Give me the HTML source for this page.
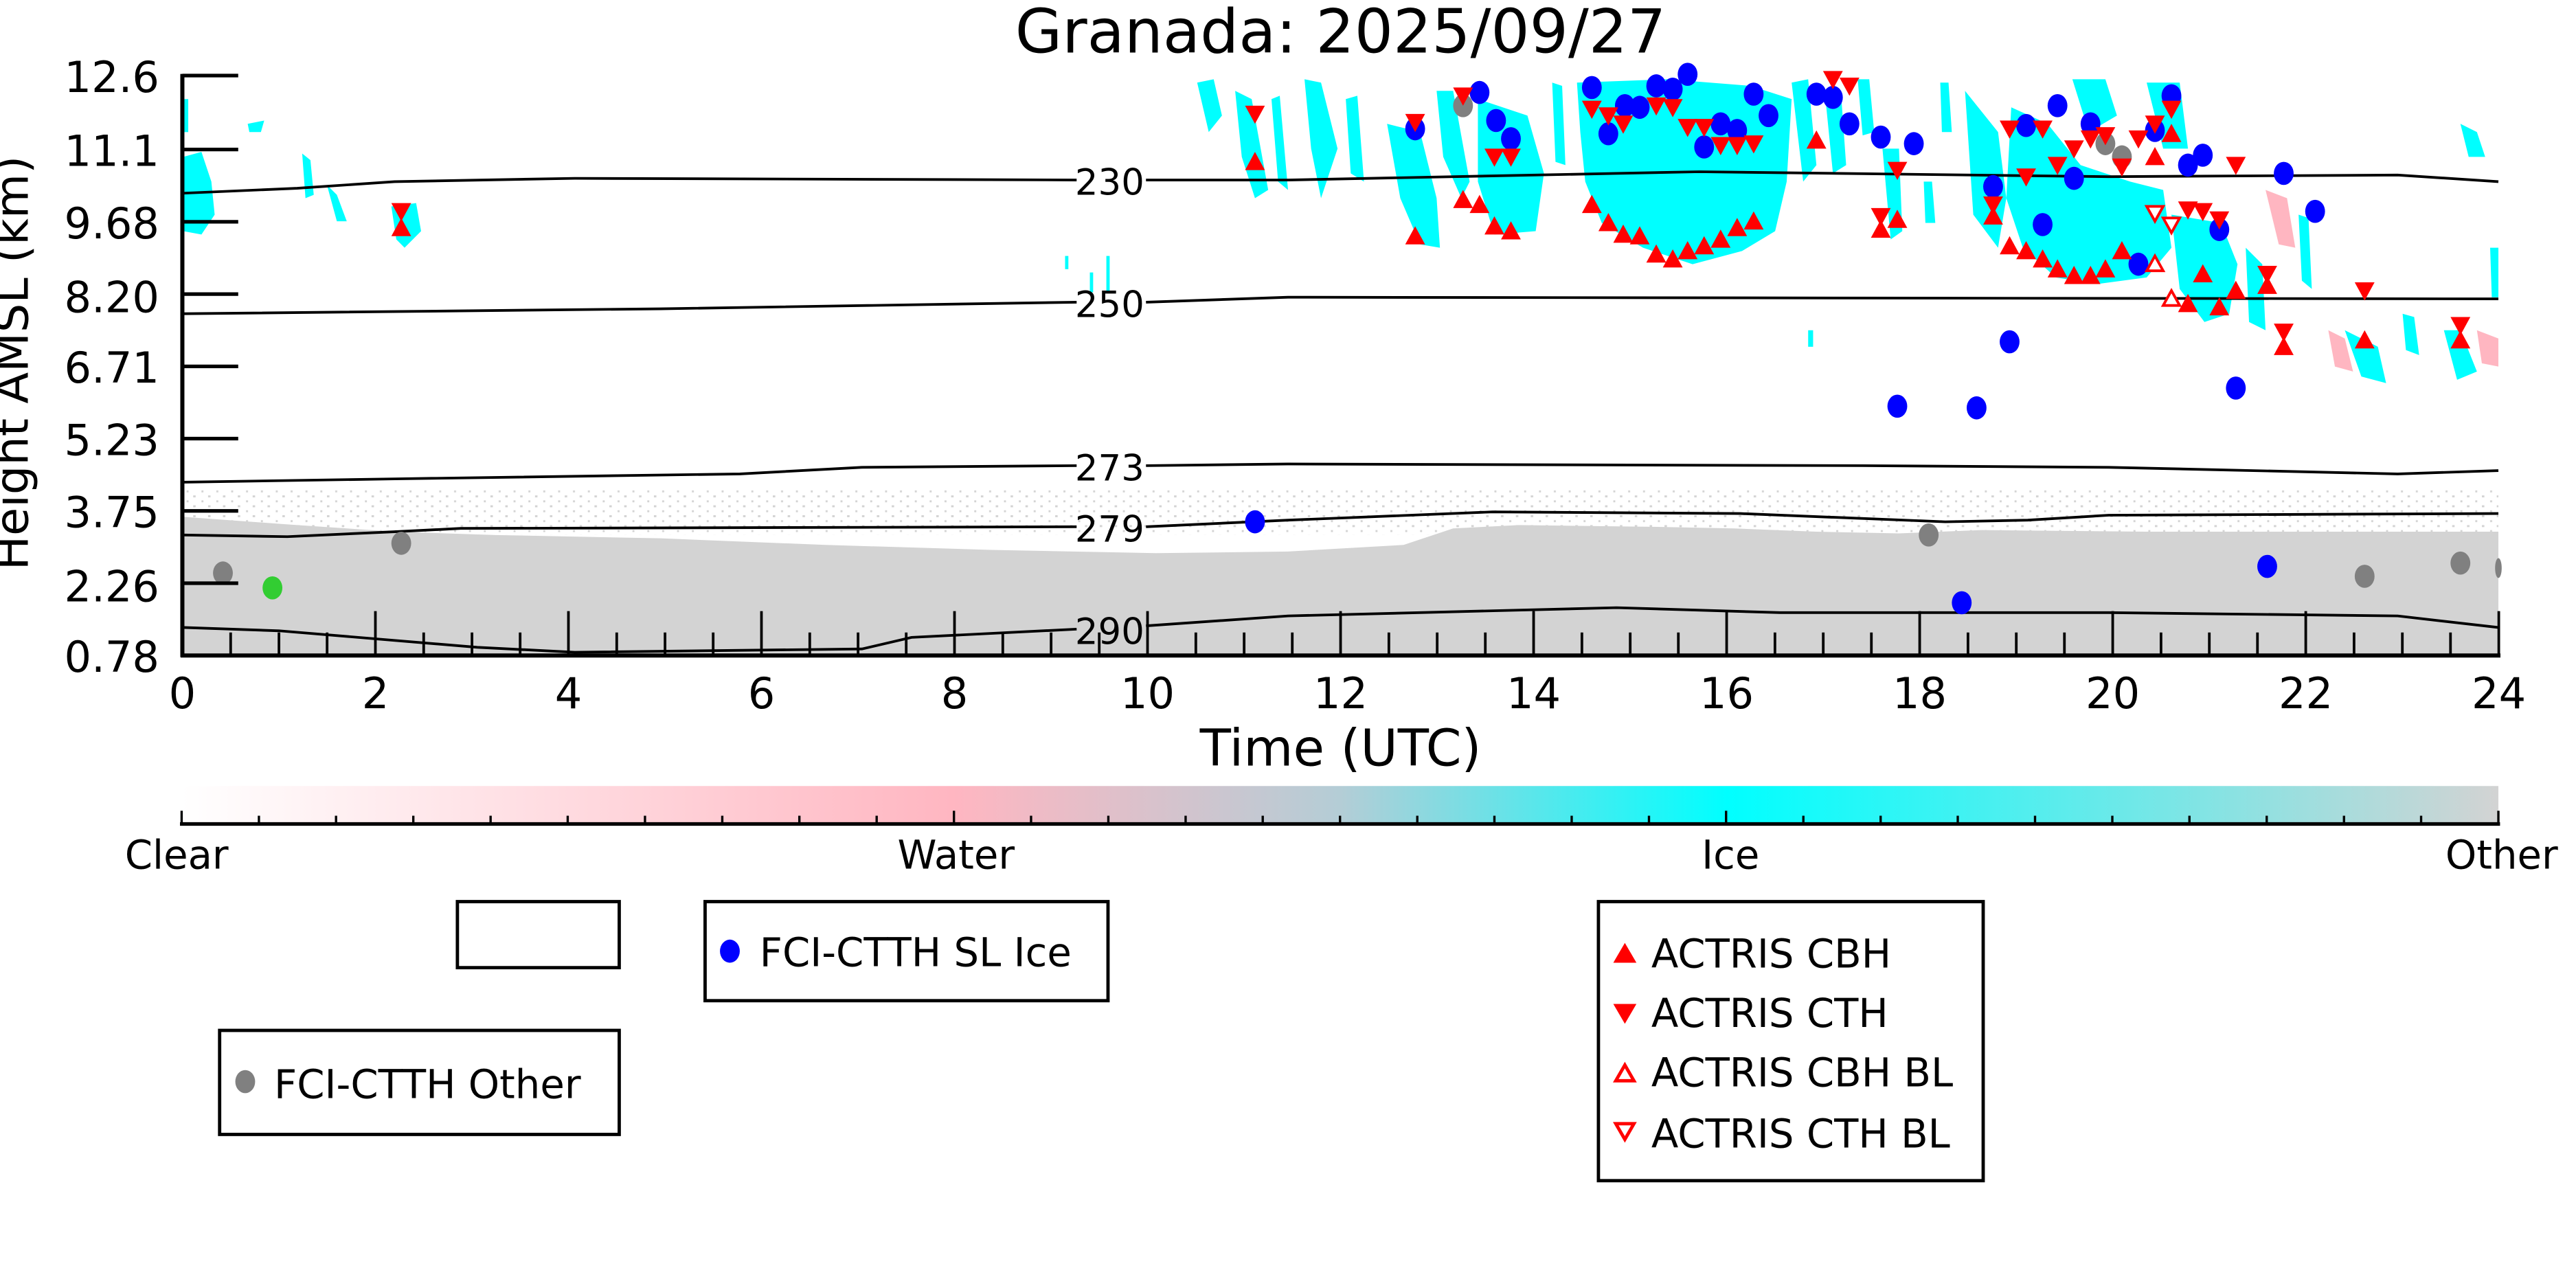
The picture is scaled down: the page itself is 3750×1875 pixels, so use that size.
<!DOCTYPE html>
<html><head><meta charset="utf-8"><style>html,body{margin:0;padding:0;background:#fff;}svg{display:block;}</style></head>
<body>
<svg xmlns="http://www.w3.org/2000/svg" width="3750" height="1875" viewBox="0 0 1560 780" preserveAspectRatio="none" font-family="DejaVu Sans, Liberation Sans, sans-serif">
<defs>
<linearGradient id="cb" x1="0" x2="1" y1="0" y2="0">
<stop offset="0" stop-color="#ffffff"/>
<stop offset="0.333" stop-color="#ffb6c1"/>
<stop offset="0.5" stop-color="#b4cdd6"/>
<stop offset="0.667" stop-color="#00ffff"/>
<stop offset="1" stop-color="#d3d3d3"/>
</linearGradient>
<pattern id="spk" width="9" height="6" patternUnits="userSpaceOnUse">
<rect x="0" y="0" width="1.5" height="1.2" fill="#d3d3d3"/>
<rect x="5" y="3" width="1.2" height="1.2" fill="#d3d3d3"/>
</pattern>
</defs>
<rect width="1560" height="780" fill="#fff"/>

<rect x="111" y="296" width="1402" height="28" fill="url(#spk)"/>
<polygon fill="#d3d3d3" points="111,313 180,318 240,322 300,324 400,326 500,330 600,333 700,335 780,334 850,330 880,320 920,318 1000,319 1050,320 1100,322 1150,323 1200,321 1300,322 1400,322 1513,322 1513,397 111,397"/>

<g fill="#00ffff">
<polygon points="111,95 122,92 128,110 130,130 122,142 111,140"/>
<rect x="111" y="60" width="3" height="20"/>
<polygon points="150,75 160,73 158,80 151,80"/>
<polygon points="183,93 188,97 190,118 185,120"/>
<polygon points="198,112 204,118 210,134 204,134"/>
<polygon points="237,125 252,123 255,140 245,150 240,145"/>
<rect x="645" y="155" width="2" height="8"/>
<rect x="660" y="165" width="2" height="12"/>
<rect x="670" y="155" width="2" height="22"/>
<polygon points="725,50 735,48 740,70 732,80"/>
<polygon points="748,55 758,60 768,115 760,120 752,95"/>
<polygon points="770,60 775,58 780,115 774,110"/>
<polygon points="790,48 800,50 810,90 800,120 794,90"/>
<polygon points="815,60 822,58 826,110 818,105"/>
<polygon points="840,75 860,80 870,120 872,150 860,148 848,120"/>
<polygon points="870,55 880,55 890,110 885,120 874,95"/>
<polygon points="895,60 925,70 935,105 930,140 905,142 895,110"/>
<polygon points="940,50 946,52 948,100 942,98"/>
<polygon points="955,50 1010,48 1060,52 1085,60 1082,110 1075,140 1055,152 1025,160 995,150 970,135 960,110 957,80"/>
<polygon points="1085,50 1095,48 1100,100 1092,110"/>
<polygon points="1105,55 1115,58 1118,100 1110,105"/>
<polygon points="1125,48 1132,48 1135,80 1128,82"/>
<polygon points="1140,90 1150,90 1152,140 1145,145"/>
<polygon points="1165,110 1170,110 1172,135 1166,135"/>
<polygon points="1175,50 1180,50 1182,80 1176,80"/>
<polygon points="1190,55 1210,80 1215,120 1210,150 1195,130"/>
<polygon points="1218,65 1240,75 1260,100 1290,110 1310,115 1315,150 1300,168 1270,172 1245,168 1225,150 1215,120"/>
<polygon points="1255,48 1275,48 1282,70 1265,80"/>
<polygon points="1300,50 1320,50 1325,90 1310,90"/>
<polygon points="1315,130 1345,135 1355,160 1350,190 1335,195 1320,175"/>
<polygon points="1360,150 1370,160 1372,200 1362,195"/>
<polygon points="1392,130 1398,132 1400,175 1394,170"/>
<polygon points="1420,200 1440,210 1445,232 1430,228"/>
<polygon points="1455,190 1462,192 1465,215 1457,212"/>
<polygon points="1480,200 1490,200 1500,225 1488,230"/>
<polygon points="1490,75 1500,80 1505,95 1495,95"/>
<polygon points="1508,150 1513,150 1513,180 1509,180"/>
<rect x="1095" y="200" width="3" height="10"/>
</g>
<g fill="#ffb6c1">
<polygon points="1372,115 1385,120 1390,150 1380,148"/>
<polygon points="1410,200 1420,205 1425,225 1414,222"/>
<polygon points="1500,200 1513,205 1513,222 1503,220"/>
</g>

<g fill="none" stroke="#000" stroke-width="1.6">
<polyline points="111,117 180,114 239,110 348,108 652,109"/>
<polyline points="694,109 780,109 1029,104 1277,107 1452,106 1513,110"/>
<polyline points="111,190 400,187 652,183"/>
<polyline points="694,183 780,180 1513,181"/>
<polyline points="111,292 239,290 448,287 522,283 652,282"/>
<polyline points="694,282 780,281 1128,282 1277,283 1452,287 1513,285"/>
<polyline points="111,324 174,325 239,322 279,320 652,319"/>
<polyline points="694,319 780,315 904,310 1054,311 1178,316 1228,315 1277,312 1513,311"/>
<polyline points="111,380 169,382 289,392 348,395 522,393 552,386 652,381"/>
<polyline points="694,379 780,373 979,368 1078,371 1178,371 1277,371 1452,373 1513,380"/>
</g>
<g font-size="22" text-anchor="middle">
<text x="672" y="118">230</text>
<text x="672" y="192">250</text>
<text x="672" y="291">273</text>
<text x="672" y="328">279</text>
<text x="672" y="390">290</text>
</g>

<g fill="#0000ff">
<ellipse cx="760" cy="316" rx="6" ry="7"/><ellipse cx="857" cy="78" rx="6" ry="7"/><ellipse cx="896" cy="56" rx="6" ry="7"/><ellipse cx="906" cy="73" rx="6" ry="7"/><ellipse cx="915" cy="84" rx="6" ry="7"/><ellipse cx="964" cy="53" rx="6" ry="7"/><ellipse cx="974" cy="81" rx="6" ry="7"/><ellipse cx="984" cy="64" rx="6" ry="7"/><ellipse cx="993" cy="65" rx="6" ry="7"/><ellipse cx="1003" cy="52" rx="6" ry="7"/><ellipse cx="1013" cy="54" rx="6" ry="7"/><ellipse cx="1022" cy="45" rx="6" ry="7"/><ellipse cx="1032" cy="89" rx="6" ry="7"/><ellipse cx="1042" cy="75" rx="6" ry="7"/><ellipse cx="1052" cy="79" rx="6" ry="7"/><ellipse cx="1062" cy="57" rx="6" ry="7"/><ellipse cx="1071" cy="70" rx="6" ry="7"/><ellipse cx="1100" cy="57" rx="6" ry="7"/><ellipse cx="1110" cy="59" rx="6" ry="7"/><ellipse cx="1120" cy="75" rx="6" ry="7"/><ellipse cx="1139" cy="83" rx="6" ry="7"/><ellipse cx="1159" cy="87" rx="6" ry="7"/><ellipse cx="1149" cy="246" rx="6" ry="7"/><ellipse cx="1197" cy="247" rx="6" ry="7"/><ellipse cx="1217" cy="207" rx="6" ry="7"/><ellipse cx="1207" cy="113" rx="6" ry="7"/><ellipse cx="1227" cy="76" rx="6" ry="7"/><ellipse cx="1246" cy="64" rx="6" ry="7"/><ellipse cx="1237" cy="136" rx="6" ry="7"/><ellipse cx="1256" cy="108" rx="6" ry="7"/><ellipse cx="1266" cy="75" rx="6" ry="7"/><ellipse cx="1295" cy="160" rx="6" ry="7"/><ellipse cx="1305" cy="79" rx="6" ry="7"/><ellipse cx="1315" cy="58" rx="6" ry="7"/><ellipse cx="1325" cy="100" rx="6" ry="7"/><ellipse cx="1334" cy="94" rx="6" ry="7"/><ellipse cx="1344" cy="139" rx="6" ry="7"/><ellipse cx="1354" cy="235" rx="6" ry="7"/><ellipse cx="1373" cy="343" rx="6" ry="7"/><ellipse cx="1383" cy="105" rx="6" ry="7"/><ellipse cx="1402" cy="128" rx="6" ry="7"/><ellipse cx="1188" cy="365" rx="6" ry="7"/>
</g>
<g fill="#808080">
<ellipse cx="135" cy="347" rx="6" ry="7"/><ellipse cx="243" cy="329" rx="6" ry="7"/><ellipse cx="886" cy="64" rx="6" ry="7"/><ellipse cx="1168" cy="324" rx="6" ry="7"/><ellipse cx="1275" cy="87" rx="6" ry="7"/><ellipse cx="1285" cy="95" rx="6" ry="7"/><ellipse cx="1432" cy="349" rx="6" ry="7"/><ellipse cx="1490" cy="341" rx="6" ry="7"/><ellipse cx="1513" cy="344" rx="2" ry="6"/>
</g>
<ellipse cx="165" cy="356" rx="6" ry="7" fill="#32cd32"/>

<g fill="red">
<path d="M857,80l-6,-11h12z"/><path d="M886,64l-6,-11h12z"/><path d="M905,101l-6,-11h12z"/><path d="M915,101l-6,-11h12z"/><path d="M964,72l-6,-11h12z"/><path d="M974,76l-6,-11h12z"/><path d="M983,81l-6,-11h12z"/><path d="M1003,70l-6,-11h12z"/><path d="M1013,71l-6,-11h12z"/><path d="M1022,83l-6,-11h12z"/><path d="M1032,83l-6,-11h12z"/><path d="M1042,94l-6,-11h12z"/><path d="M1052,94l-6,-11h12z"/><path d="M1062,93l-6,-11h12z"/><path d="M1110,54l-6,-11h12z"/><path d="M1120,58l-6,-11h12z"/><path d="M1149,109l-6,-11h12z"/><path d="M1139,137l-6,-11h12z"/><path d="M1207,130l-6,-11h12z"/><path d="M1217,84l-6,-11h12z"/><path d="M1227,113l-6,-11h12z"/><path d="M1237,84l-6,-11h12z"/><path d="M1246,106l-6,-11h12z"/><path d="M1256,96l-6,-11h12z"/><path d="M1266,90l-6,-11h12z"/><path d="M1275,88l-6,-11h12z"/><path d="M1285,107l-6,-11h12z"/><path d="M1295,90l-6,-11h12z"/><path d="M1305,81l-6,-11h12z"/><path d="M1315,72l-6,-11h12z"/><path d="M1325,133l-6,-11h12z"/><path d="M1334,134l-6,-11h12z"/><path d="M1344,139l-6,-11h12z"/><path d="M1354,106l-6,-11h12z"/><path d="M1373,172l-6,-11h12z"/><path d="M1383,207l-6,-11h12z"/><path d="M1432,182l-6,-11h12z"/><path d="M1490,203l-6,-11h12z"/><path d="M760,75l-6,-11h12z"/><path d="M243,134l-6,-11h12z"/>
</g>
<g fill="red">
<path d="M857,137l-6,11h12z"/><path d="M886,115l-6,11h12z"/><path d="M896,118l-6,11h12z"/><path d="M905,131l-6,11h12z"/><path d="M915,134l-6,11h12z"/><path d="M964,118l-6,11h12z"/><path d="M974,129l-6,11h12z"/><path d="M983,136l-6,11h12z"/><path d="M993,137l-6,11h12z"/><path d="M1003,148l-6,11h12z"/><path d="M1013,151l-6,11h12z"/><path d="M1022,146l-6,11h12z"/><path d="M1032,143l-6,11h12z"/><path d="M1042,139l-6,11h12z"/><path d="M1052,132l-6,11h12z"/><path d="M1062,128l-6,11h12z"/><path d="M1100,79l-6,11h12z"/><path d="M1139,133l-6,11h12z"/><path d="M1149,127l-6,11h12z"/><path d="M1207,125l-6,11h12z"/><path d="M1217,143l-6,11h12z"/><path d="M1227,146l-6,11h12z"/><path d="M1237,151l-6,11h12z"/><path d="M1246,157l-6,11h12z"/><path d="M1256,161l-6,11h12z"/><path d="M1266,161l-6,11h12z"/><path d="M1275,157l-6,11h12z"/><path d="M1285,146l-6,11h12z"/><path d="M1305,89l-6,11h12z"/><path d="M1315,75l-6,11h12z"/><path d="M1325,178l-6,11h12z"/><path d="M1334,160l-6,11h12z"/><path d="M1344,180l-6,11h12z"/><path d="M1354,170l-6,11h12z"/><path d="M1373,167l-6,11h12z"/><path d="M1383,204l-6,11h12z"/><path d="M1432,200l-6,11h12z"/><path d="M1490,200l-6,11h12z"/><path d="M760,92l-6,11h12z"/><path d="M243,132l-6,11h12z"/>
</g>
<g fill="#fff" stroke="red" stroke-width="1.6">
<path d="M1305,134l-5,-9h10z"/><path d="M1315,141l-5,-9h10z"/>
<path d="M1305,155l-5,9h10z"/><path d="M1315,176l-5,9h10z"/>
</g>

<g transform="scale(0.9949)">
<text x="816" y="32" font-size="37" text-anchor="middle">Granada: 2025/09/27</text>
<g stroke="#000" stroke-width="2.5" fill="none">
<line x1="111" y1="45" x2="111" y2="400"/>
<line x1="110" y1="399" x2="1522" y2="399"/>
</g>
<g stroke="#000" stroke-width="2.2">
<line x1="111" y1="46" x2="145" y2="46"/><line x1="111" y1="91" x2="145" y2="91"/><line x1="111" y1="135" x2="145" y2="135"/><line x1="111" y1="179" x2="145" y2="179"/><line x1="111" y1="223" x2="145" y2="223"/><line x1="111" y1="267" x2="145" y2="267"/><line x1="111" y1="311" x2="145" y2="311"/><line x1="111" y1="355" x2="145" y2="355"/>
</g>
<g stroke="#000" stroke-width="1.6">
<line x1="228.5" y1="372" x2="228.5" y2="399"/><line x1="346" y1="372" x2="346" y2="399"/><line x1="463.5" y1="372" x2="463.5" y2="399"/><line x1="581" y1="372" x2="581" y2="399"/><line x1="698.5" y1="372" x2="698.5" y2="399"/><line x1="816" y1="372" x2="816" y2="399"/><line x1="933.5" y1="372" x2="933.5" y2="399"/><line x1="1051" y1="372" x2="1051" y2="399"/><line x1="1168.5" y1="372" x2="1168.5" y2="399"/><line x1="1286" y1="372" x2="1286" y2="399"/><line x1="1403.5" y1="372" x2="1403.5" y2="399"/><line x1="1521" y1="372" x2="1521" y2="399"/>
<path d="M140.4,385v14M169.8,385v14M199.1,385v14M257.9,385v14M287.3,385v14M316.6,385v14M375.4,385v14M404.8,385v14M434.1,385v14M492.9,385v14M522.3,385v14M551.6,385v14M610.4,385v14M639.8,385v14M669.1,385v14M727.9,385v14M757.3,385v14M786.6,385v14M845.4,385v14M874.8,385v14M904.1,385v14M962.9,385v14M992.3,385v14M1021.6,385v14M1080.4,385v14M1109.8,385v14M1139.1,385v14M1197.9,385v14M1227.3,385v14M1256.6,385v14M1315.4,385v14M1344.8,385v14M1374.1,385v14M1432.9,385v14M1462.3,385v14M1491.6,385v14"/>
</g>
<g font-size="26" text-anchor="end">
<text x="97" y="56">12.6</text><text x="97" y="101">11.1</text><text x="97" y="145">9.68</text><text x="97" y="190">8.20</text><text x="97" y="233">6.71</text><text x="97" y="277">5.23</text><text x="97" y="321">3.75</text><text x="97" y="366">2.26</text><text x="97" y="409">0.78</text>
</g>
<g font-size="26" text-anchor="middle">
<text x="111" y="431">0</text><text x="228.5" y="431">2</text><text x="346" y="431">4</text><text x="463.5" y="431">6</text><text x="581" y="431">8</text><text x="698.5" y="431">10</text><text x="816" y="431">12</text><text x="933.5" y="431">14</text><text x="1051" y="431">16</text><text x="1168.5" y="431">18</text><text x="1286" y="431">20</text><text x="1403.5" y="431">22</text><text x="1521" y="431">24</text>
</g>
<text x="816" y="466" font-size="31" text-anchor="middle">Time (UTC)</text>
<text transform="translate(17,221) rotate(-90)" font-size="28" text-anchor="middle">Height AMSL (km)</text>
</g>

<rect x="110" y="476" width="1403" height="23" fill="url(#cb)"/>
<line x1="109" y1="499" x2="1514" y2="499" stroke="#000" stroke-width="2.2"/>
<path stroke="#000" stroke-width="1.4" d="M110,491v8M156.8,494v5M203.5,494v5M250.3,494v5M297.1,494v5M343.8,494v5M390.6,494v5M437.4,494v5M484.1,494v5M530.9,494v5M577.7,491v8M624.4,494v5M671.2,494v5M718,494v5M764.7,494v5M811.5,494v5M858.3,494v5M905,494v5M951.8,494v5M998.6,494v5M1045.3,491v8M1092.1,494v5M1138.9,494v5M1185.6,494v5M1232.4,494v5M1279.2,494v5M1325.9,494v5M1372.7,494v5M1419.5,494v5M1466.2,494v5M1513,491v8"/>
<g font-size="24" text-anchor="middle">
<text x="107" y="526">Clear</text><text x="579" y="526">Water</text><text x="1048" y="526">Ice</text><text x="1515" y="526">Other</text>
</g>

<g fill="#fff" stroke="#000" stroke-width="2">
<rect x="277" y="546" width="98" height="40"/>
<rect x="427" y="546" width="244" height="60"/>
<rect x="133" y="624" width="242" height="63"/>
<rect x="968" y="546" width="233" height="169"/>
</g>
<ellipse cx="442" cy="576" rx="6" ry="7" fill="#0000ff"/>
<ellipse cx="148.5" cy="655" rx="6" ry="7" fill="#808080"/>
<g font-size="24">
<text x="460" y="585">FCI-CTTH SL Ice</text>
<text x="166" y="665">FCI-CTTH Other</text>
<text x="1000" y="586">ACTRIS CBH</text>
<text x="1000" y="622">ACTRIS CTH</text>
<text x="1000" y="658">ACTRIS CBH BL</text>
<text x="1000" y="695">ACTRIS CTH BL</text>
</g>
<path d="M984,571l-7,12h14z" fill="red"/>
<path d="M984,620l-7,-12h14z" fill="red"/>
<path d="M984,645l-5.5,9.5h11z" fill="#fff" stroke="red" stroke-width="2"/>
<path d="M984,690l-5.5,-9.5h11z" fill="#fff" stroke="red" stroke-width="2"/>
</svg>
</body></html>
